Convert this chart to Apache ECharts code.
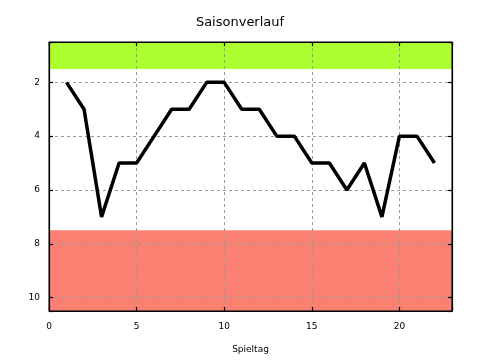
<!DOCTYPE html>
<html>
<head>
<meta charset="utf-8">
<script src="https://cdn.jsdelivr.net/npm/echarts@6/dist/echarts.min.js"></script>
<style>html,body{margin:0;padding:0;background:#fff}#c{width:480px;height:360px}</style>
</head>
<body>
<div id="c"></div>
<script>
const spieltage = [1,2,3,4,5,6,7,8,9,10,11,12,13,14,15,16,17,18,19,20,21,22];
const platz = [2,3,7,5,5,4,3,3,2,2,3,3,4,4,5,5,6,5,7,4,4,5];
const xTicks = [0,5,10,15,20];
const yTicks = [2,4,6,8,10];
const xRange = [0,23];
const yRange = [0.5,10.5];
const aufstiegBand = [0.5,1.5];
const abstiegBand = [7.5,10.5];

const font = 'DejaVu Sans';
const chart = echarts.init(document.getElementById('c'), null, {renderer:'canvas'});
function axisLine(){ return {show:true, onZero:false, lineStyle:{color:'#000', width:1.2}}; }
function axisTick(){ return {show:true, inside:true, length:4, lineStyle:{color:'#000', width:1.2}}; }
const gridLine = {show:true, showMinLine:false, showMaxLine:false, lineStyle:{color:'#999', type:[3,3], width:1}};
chart.setOption({
  animation:false,
  backgroundColor:'#fff',
  title:{text:'Saisonverlauf', left:'center', top:11, textStyle:{fontFamily:font, fontSize:13, fontWeight:'normal', color:'#000'}},
  grid:{left:49, right:28, top:42, bottom:49, show:true, backgroundColor:'rgba(0,0,0,0)', borderColor:'#000', borderWidth:1, z:20},
  xAxis:[
    {
      type:'value', position:'bottom', min:xRange[0], max:xRange[1], interval:5,
      name:'Spieltag', nameLocation:'middle', nameGap:34,
      nameTextStyle:{fontFamily:font, fontSize:9, color:'#000'},
      axisLine:axisLine(), axisTick:axisTick(),
      axisLabel:{customValues:xTicks, margin:11, fontFamily:font, fontSize:9, color:'#000'},
      splitLine:gridLine
    },
    {
      type:'value', position:'top', min:xRange[0], max:xRange[1], interval:5,
      axisLine:axisLine(), axisTick:axisTick(),
      axisLabel:{show:false},
      splitLine:{show:false}
    }
  ],
  yAxis:[
    {
      type:'value', position:'left', inverse:true, min:yRange[0], max:yRange[1],
      axisLine:axisLine(), axisTick:axisTick(),
      axisLabel:{customValues:yTicks, margin:9, fontFamily:font, fontSize:9, color:'#000'},
      splitLine:gridLine
    },
    {
      type:'value', position:'right', inverse:true, min:yRange[0], max:yRange[1],
      axisLine:axisLine(), axisTick:axisTick(),
      axisLabel:{show:false},
      splitLine:{show:false}
    }
  ],
  series:[{
    type:'line',
    data:[],
    z:-1,
    markArea:{
      silent:true,
      z:-1,
      data:[
        [{yAxis:aufstiegBand[0], itemStyle:{color:'#adff2f', opacity:1}}, {yAxis:aufstiegBand[1]}],
        [{yAxis:abstiegBand[0], itemStyle:{color:'#fa8072', opacity:1}}, {yAxis:abstiegBand[1]}]
      ]
    }
  },{
    type:'line',
    data:spieltage.map((s,i)=>[s, platz[i]]),
    showSymbol:false,
    symbol:'none',
    lineStyle:{color:'#000', width:3.5},
    z:3
  }]
});
</script>
</body>
</html>
